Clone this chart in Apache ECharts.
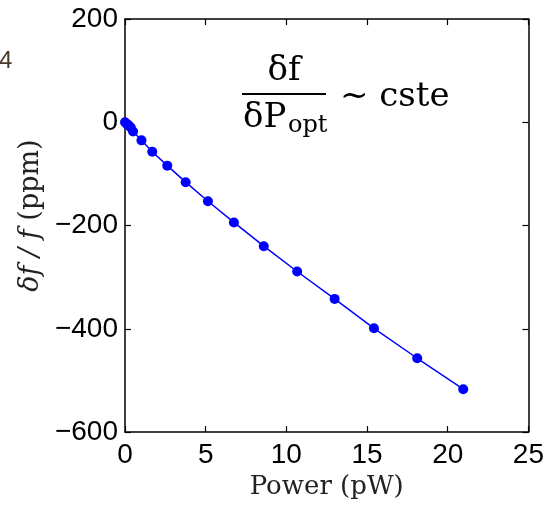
<!DOCTYPE html>
<html>
<head>
<meta charset="utf-8">
<script src="https://cdn.jsdelivr.net/npm/echarts@6/dist/echarts.min.js"></script>
<style>html,body{margin:0;padding:0;background:#fff;}#c{width:547px;height:505px;}</style>
</head>
<body>
<div id="c"></div>
<script>
const powerPW = [0, 0.1, 0.22, 0.36, 0.5, 1.02, 1.69, 2.62, 3.76, 5.14, 6.75, 8.6, 10.67, 12.99, 15.43, 18.11, 20.96];
const dfPpm = [0, -3, -6, -10, -18, -35, -57, -84, -116, -153, -194, -240, -289, -342, -399, -457, -517];
const xTicks = [0, 5, 10, 15, 20, 25];
const yTicks = [-600, -400, -200, 0, 200];

const chart = echarts.init(document.getElementById('c'), null, {renderer: 'canvas'});
const tickFont = {fontFamily: 'Liberation Sans', fontSize: 28, color: '#000'};
const frameLine = {show: true, onZero: false, lineStyle: {color: '#000', width: 1.5}};
const tickIn = {show: true, inside: true, length: 6, lineStyle: {color: '#000', width: 1.2}};
const fmt = v => String(v).replace('-', '\u2212');

chart.setOption({
  animation: false,
  grid: {left: 125, right: 12, top: 19, bottom: 72},
  xAxis: [{
    type: 'value', min: xTicks[0], max: xTicks[xTicks.length-1], interval: 5,
    axisLine: frameLine, axisTick: tickIn, splitLine: {show: false},
    axisLabel: Object.assign({margin: 9, formatter: fmt}, tickFont),
    name: 'Power (pW)', nameLocation: 'middle', nameGap: 40,
    nameTextStyle: {fontFamily: 'DejaVu Serif', fontSize: 26, color: '#222'}
  }, {
    type: 'value', position: 'top', min: 0, max: 25, interval: 5,
    axisLine: frameLine, axisTick: tickIn, axisLabel: {show: false}, splitLine: {show: false}
  }],
  yAxis: [{
    type: 'value', min: yTicks[0], max: yTicks[yTicks.length-1], interval: 200,
    axisLine: frameLine, axisTick: tickIn, splitLine: {show: false},
    axisLabel: Object.assign({margin: 7, formatter: fmt}, tickFont),
    name: '{i|δf / f} (ppm)', nameLocation: 'middle', nameGap: 76, nameRotate: 90,
    nameTextStyle: {fontFamily: 'DejaVu Serif', fontSize: 27, color: '#222', padding: [0, 0, 0, 20],
      rich: {i: {fontFamily: 'DejaVu Serif', fontStyle: 'italic', fontSize: 27, color: '#222'}}}
  }, {
    type: 'value', position: 'right', min: -600, max: 200, interval: 200,
    axisLine: frameLine, axisTick: tickIn, axisLabel: {show: false}, splitLine: {show: false}
  }],
  series: [{
    type: 'line', xAxisIndex: 0, yAxisIndex: 0,
    data: powerPW.map((x, i) => [x, dfPpm[i]]),
    symbol: 'circle', symbolSize: 10, showSymbol: true,
    lineStyle: {color: '#0000ff', width: 1.5},
    itemStyle: {color: '#0000ff'}
  }],
  graphic: [
    {type: 'text', x: -1, y: 61, style: {text: '4', fontFamily: 'Liberation Sans', fontSize: 24, fill: '#4a3a2a', verticalAlign: 'middle'}},
    {type: 'text', x: 284, y: 71, style: {text: 'δf', fontFamily: 'DejaVu Serif', fontSize: 34, fill: '#000', align: 'center', verticalAlign: 'middle'}},
    {type: 'line', shape: {x1: 242, y1: 94, x2: 326, y2: 94}, style: {stroke: '#000', lineWidth: 2}},
    {type: 'text', x: 243, y: 118, style: {text: 'δP', fontFamily: 'DejaVu Serif', fontSize: 34, fill: '#000', verticalAlign: 'middle'}},
    {type: 'text', x: 288, y: 126, style: {text: 'opt', fontFamily: 'DejaVu Serif', fontSize: 24, fill: '#000', verticalAlign: 'middle'}},
    {type: 'text', x: 340, y: 97, style: {text: '~ cste', fontFamily: 'DejaVu Serif', fontSize: 34, fill: '#000', verticalAlign: 'middle'}}
  ]
});
</script>
</body>
</html>
